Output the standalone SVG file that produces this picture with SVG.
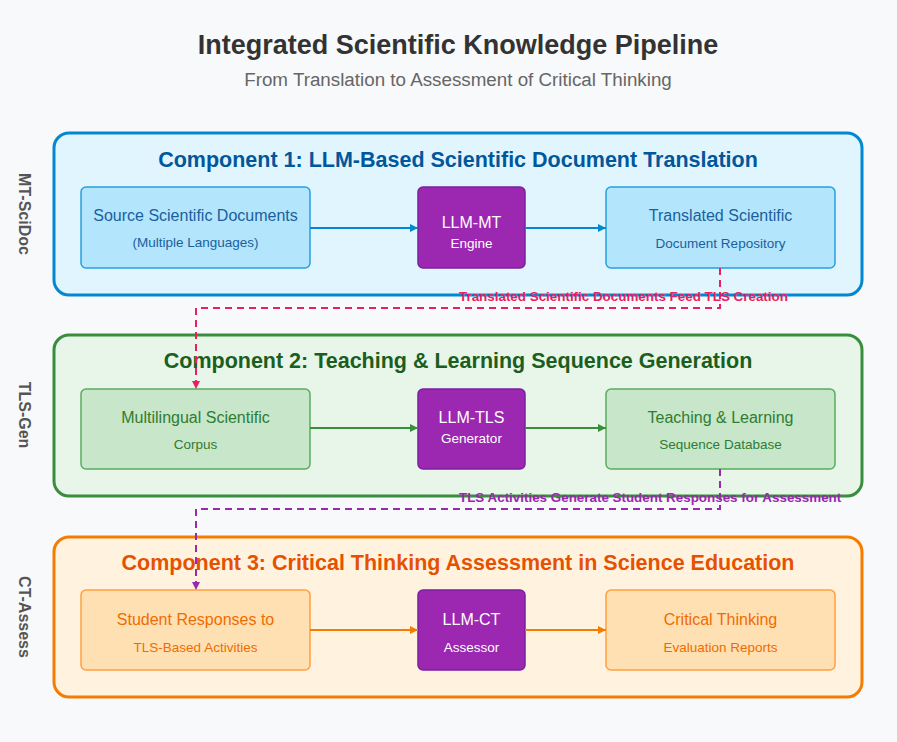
<svg xmlns="http://www.w3.org/2000/svg" width="897" height="742" viewBox="0 0 897 742">
<style>
text{font-family:"Liberation Sans",Arial,sans-serif}
.t{font-size:27px;font-weight:bold;fill:#333;text-anchor:middle}
.st{font-size:18.8px;fill:#666;text-anchor:middle}
.side{font-size:16px;font-weight:bold;fill:#555;text-anchor:middle}
.ct{font-size:21.5px;font-weight:bold;text-anchor:middle}
.m{font-size:16px;text-anchor:middle}
.s{font-size:13.5px;text-anchor:middle}
.llm{fill:#9c27b0;stroke:#7b1fa2;stroke-width:1.5}
.w{fill:#fff}
.lbl{font-size:13.4px;font-weight:bold}
</style>
<defs>
<marker id="ab" markerWidth="8" markerHeight="8" refX="8" refY="4" orient="auto" markerUnits="userSpaceOnUse"><path d="M0,0L8,4L0,8z" fill="#0288d1"/></marker>
<marker id="ag" markerWidth="8" markerHeight="8" refX="8" refY="4" orient="auto" markerUnits="userSpaceOnUse"><path d="M0,0L8,4L0,8z" fill="#388e3c"/></marker>
<marker id="ao" markerWidth="8" markerHeight="8" refX="8" refY="4" orient="auto" markerUnits="userSpaceOnUse"><path d="M0,0L8,4L0,8z" fill="#f57c00"/></marker>
<marker id="ap" markerWidth="8" markerHeight="8" refX="8" refY="4" orient="auto" markerUnits="userSpaceOnUse"><path d="M0,0L8,4L0,8z" fill="#e91e63"/></marker>
<marker id="av" markerWidth="8" markerHeight="8" refX="8" refY="4" orient="auto" markerUnits="userSpaceOnUse"><path d="M0,0L8,4L0,8z" fill="#9c27b0"/></marker>
</defs>
<rect width="897" height="742" fill="#f8f9fa"/>
<text class="t" x="458" y="54">Integrated Scientific Knowledge Pipeline</text>
<text class="st" x="458" y="86">From Translation to Assessment of Critical Thinking</text>

<g id="comp1">
<rect x="54" y="133" width="808" height="162" rx="15" fill="#e1f5fe" stroke="#0288d1" stroke-width="3"/>
<text class="ct" x="458" y="167" fill="#01579b">Component 1: LLM-Based Scientific Document Translation</text>
<text class="side" transform="translate(25,214) rotate(90)" dy="6">MT-SciDoc</text>
</g>
<g id="comp2">
<rect x="54" y="335" width="808" height="161" rx="15" fill="#e8f5e9" stroke="#388e3c" stroke-width="3"/>
<text class="ct" x="458" y="368" fill="#1b5e20">Component 2: Teaching &amp; Learning Sequence Generation</text>
<text class="side" transform="translate(25,415) rotate(90)" dy="6">TLS-Gen</text>
</g>
<g id="comp3">
<rect x="54" y="537" width="808" height="160" rx="15" fill="#fff3e0" stroke="#f57c00" stroke-width="3"/>
<text class="ct" x="458" y="570" fill="#e65100">Component 3: Critical Thinking Assessment in Science Education</text>
<text class="side" transform="translate(25,617) rotate(90)" dy="6">CT-Assess</text>
</g>

<g id="src">
<rect x="81" y="187" width="229" height="81" rx="5" fill="#b3e5fc" stroke="#29a0dd" stroke-width="1.5"/>
<text class="m" x="195.5" y="221" fill="#1a5f9e">Source Scientific Documents</text>
<text class="s" x="195.5" y="247" fill="#1a5f9e">(Multiple Languages)</text>
</g>
<g id="llmmt">
<rect class="llm" x="418" y="187" width="107" height="81" rx="5"/>
<text class="m w" x="471.5" y="228">LLM-MT</text>
<text class="s w" x="471.5" y="248">Engine</text>
</g>
<g id="trans">
<rect x="606" y="187" width="229" height="81" rx="5" fill="#b3e5fc" stroke="#29a0dd" stroke-width="1.5"/>
<text class="m" x="720.5" y="221" fill="#1a5f9e">Translated Scientific</text>
<text class="s" x="720.5" y="248" fill="#1a5f9e">Document Repository</text>
</g>

<g id="corpus">
<rect x="81" y="389" width="229" height="80" rx="5" fill="#c8e6c9" stroke="#5aad5e" stroke-width="1.5"/>
<text class="m" x="195.5" y="423" fill="#2e7d32">Multilingual Scientific</text>
<text class="s" x="195.5" y="449" fill="#2e7d32">Corpus</text>
</g>
<g id="llmtls">
<rect class="llm" x="418" y="389" width="107" height="80" rx="5"/>
<text class="m w" x="471.5" y="423">LLM-TLS</text>
<text class="s w" x="471.5" y="443">Generator</text>
</g>
<g id="tlsdb">
<rect x="606" y="389" width="229" height="80" rx="5" fill="#c8e6c9" stroke="#5aad5e" stroke-width="1.5"/>
<text class="m" x="720.5" y="423" fill="#2e7d32">Teaching &amp; Learning</text>
<text class="s" x="720.5" y="449" fill="#2e7d32">Sequence Database</text>
</g>

<g id="resp">
<rect x="81" y="590" width="229" height="80" rx="5" fill="#ffe0b2" stroke="#ffa040" stroke-width="1.5"/>
<text class="m" x="195.5" y="625" fill="#ef6c00">Student Responses to</text>
<text class="s" x="195.5" y="652" fill="#ef6c00">TLS-Based Activities</text>
</g>
<g id="llmct">
<rect class="llm" x="418" y="590" width="107" height="80" rx="5"/>
<text class="m w" x="471.5" y="625">LLM-CT</text>
<text class="s w" x="471.5" y="652">Assessor</text>
</g>
<g id="eval">
<rect x="606" y="590" width="229" height="80" rx="5" fill="#ffe0b2" stroke="#ffa040" stroke-width="1.5"/>
<text class="m" x="720.5" y="625" fill="#ef6c00">Critical Thinking</text>
<text class="s" x="720.5" y="652" fill="#ef6c00">Evaluation Reports</text>
</g>

<g id="connectors" fill="none" stroke-width="2">
<line x1="310" y1="228" x2="418" y2="228" stroke="#0288d1" marker-end="url(#ab)"/>
<line x1="525" y1="228" x2="606" y2="228" stroke="#0288d1" marker-end="url(#ab)"/>
<line x1="310" y1="428" x2="418" y2="428" stroke="#388e3c" marker-end="url(#ag)"/>
<line x1="525" y1="428" x2="606" y2="428" stroke="#388e3c" marker-end="url(#ag)"/>
<line x1="310" y1="630" x2="418" y2="630" stroke="#f57c00" marker-end="url(#ao)"/>
<line x1="525" y1="630" x2="606" y2="630" stroke="#f57c00" marker-end="url(#ao)"/>
<path d="M720,268V308H196V389" stroke="#e91e63" stroke-dasharray="7,5" marker-end="url(#ap)"/>
<path d="M720,469V509H196V590" stroke="#9c27b0" stroke-dasharray="7,5" marker-end="url(#av)"/>
<text class="lbl" x="459" y="301" fill="#e91e63" stroke="none">Translated Scientific Documents Feed TLS Creation</text>
<text class="lbl" x="459" y="502" fill="#9c27b0" stroke="none">TLS Activities Generate Student Responses for Assessment</text>
</g>
</svg>
